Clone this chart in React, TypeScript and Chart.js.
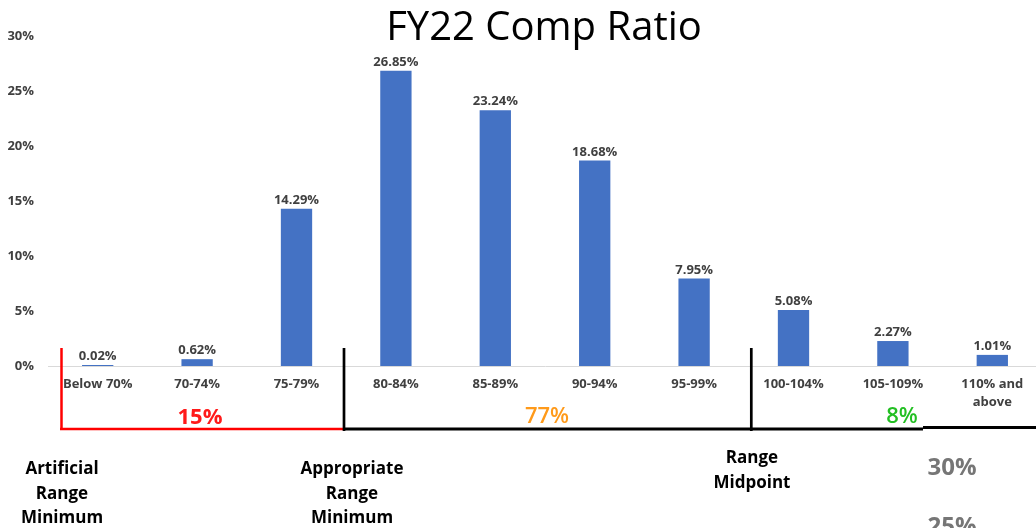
import React, { useEffect, useRef } from "react";
import { Chart, registerables } from "chart.js";

Chart.register(...registerables);

const categories: (string | string[])[] = [
  "Below 70%",
  "70-74%",
  "75-79%",
  "80-84%",
  "85-89%",
  "90-94%",
  "95-99%",
  "100-104%",
  "105-109%",
  ["110% and", "above"],
];
const shares: number[] = [0.02, 0.62, 14.29, 26.85, 23.24, 18.68, 7.95, 5.08, 2.27, 1.01];
const shareLabels: string[] = ["0.02%", "0.62%", "14.29%", "26.85%", "23.24%", "18.68%", "7.95%", "5.08%", "2.27%", "1.01%"];
const yTicks: number[] = [0, 5, 10, 15, 20, 25, 30];

const FONT = "'Open Sans', 'Noto Sans', sans-serif";

const dataLabelPlugin = {
  id: "dataLabels",
  afterDatasetsDraw(chart: any) {
    const ctx = chart.ctx;
    const meta = chart.getDatasetMeta(0);
    ctx.save();
    ctx.font = `bold 13px ${FONT}`;
    ctx.fillStyle = "#404040";
    ctx.textAlign = "center";
    ctx.textBaseline = "alphabetic";
    meta.data.forEach((bar: any, i: number) => {
      ctx.fillText(shareLabels[i], bar.x, bar.y - 5);
    });
    ctx.restore();
  },
};

const overlayPlugin = {
  id: "overlay",
  afterDraw(chart: any) {
    const ctx = chart.ctx;
    ctx.save();
    // title
    ctx.font = `40px ${FONT}`;
    ctx.fillStyle = "#000";
    ctx.textAlign = "center";
    ctx.textBaseline = "alphabetic";
    ctx.fillText("FY22 Comp Ratio", 544, 40);

    const line = (x1: number, y1: number, x2: number, y2: number, color: string, w: number) => {
      ctx.beginPath();
      ctx.strokeStyle = color;
      ctx.lineWidth = w;
      ctx.moveTo(x1, y1);
      ctx.lineTo(x2, y2);
      ctx.stroke();
    };
    // red bracket
    line(61.5, 348, 61.5, 430, "#ff0000", 2.5);
    line(60, 429, 343, 429, "#ff0000", 2.5);
    // black bracket
    line(344, 348, 344, 431, "#000", 2.7);
    line(343, 429, 923, 429, "#000", 3);
    line(923, 427.5, 1036, 427.5, "#000", 3);
    line(751.3, 348, 751.3, 431, "#000", 2.7);

    // percentages
    ctx.textAlign = "center";
    ctx.font = `bold 22px ${FONT}`;
    ctx.fillStyle = "#ff1a1a";
    ctx.fillText("15%", 200, 424);
    ctx.font = `600 22px ${FONT}`;
    ctx.fillStyle = "#ff9a1a";
    ctx.fillText("77%", 547, 423);
    ctx.fillStyle = "#22bf22";
    ctx.fillText("8%", 902, 423);

    // labels
    ctx.font = `bold 17px ${FONT}`;
    ctx.fillStyle = "#000";
    const stack = (lines: string[], x: number, y0: number) => {
      lines.forEach((t, i) => ctx.fillText(t, x, y0 + i * 24.5));
    };
    stack(["Artificial", "Range", "Minimum"], 62, 474);
    stack(["Appropriate", "Range", "Minimum"], 352, 474);
    stack(["Range", "Midpoint"], 752, 463);

    // stray axis labels from adjacent chart
    ctx.font = `bold 24px ${FONT}`;
    ctx.fillStyle = "#767676";
    ctx.fillText("30%", 952, 475);
    ctx.fillText("25%", 952, 534);
    ctx.restore();
  },
};

export default function App() {
  const ref = useRef<HTMLCanvasElement | null>(null);
  useEffect(() => {
    if (!ref.current) return;
    const chart = new Chart(ref.current, {
      type: "bar",
      data: {
        labels: categories,
        datasets: [
          {
            data: shares,
            backgroundColor: "#4472c4",
            borderWidth: 0,
            barPercentage: 0.315,
            categoryPercentage: 1,
            minBarLength: 1,
          },
        ],
      },
      options: {
        responsive: false,
        animation: false,
        layout: { padding: { top: 36, right: 0, bottom: 0, left: 0 } },
        plugins: {
          legend: { display: false },
          title: { display: false },
          tooltip: { enabled: false },
        },
        scales: {
          x: {
            grid: { display: false, drawTicks: false },
            border: { display: true, color: "#d9d9d9", width: 1 },
            ticks: {
              color: "#404040",
              font: { family: FONT, size: 13, weight: "bold", lineHeight: 1.4 },
              padding: 9,
              maxRotation: 0,
              autoSkip: false,
            },
            afterFit(scale: any) {
              scale.height = 162;
            },
          },
          y: {
            min: 0,
            max: 30,
            afterBuildTicks(scale: any) {
              scale.ticks = yTicks.map((v) => ({ value: v }));
            },
            grid: { display: false, drawTicks: false },
            border: { display: false },
            ticks: {
              color: "#404040",
              font: { family: FONT, size: 13, weight: "bold" },
              padding: 14,
              callback: (v: any) => `${v}%`,
            },
            afterFit(scale: any) {
              scale.width = 48;
            },
          },
        },
      },
      plugins: [dataLabelPlugin, overlayPlugin],
    });
    return () => chart.destroy();
  }, []);
  return (
    <div
      style={{
        position: "fixed",
        left: 0,
        top: 0,
        width: 1036,
        height: 528,
        overflow: "hidden",
        background: "#fff",
      }}
    >
      <canvas ref={ref} width={1042} height={528} style={{ display: "block" }} />
    </div>
  );
}
